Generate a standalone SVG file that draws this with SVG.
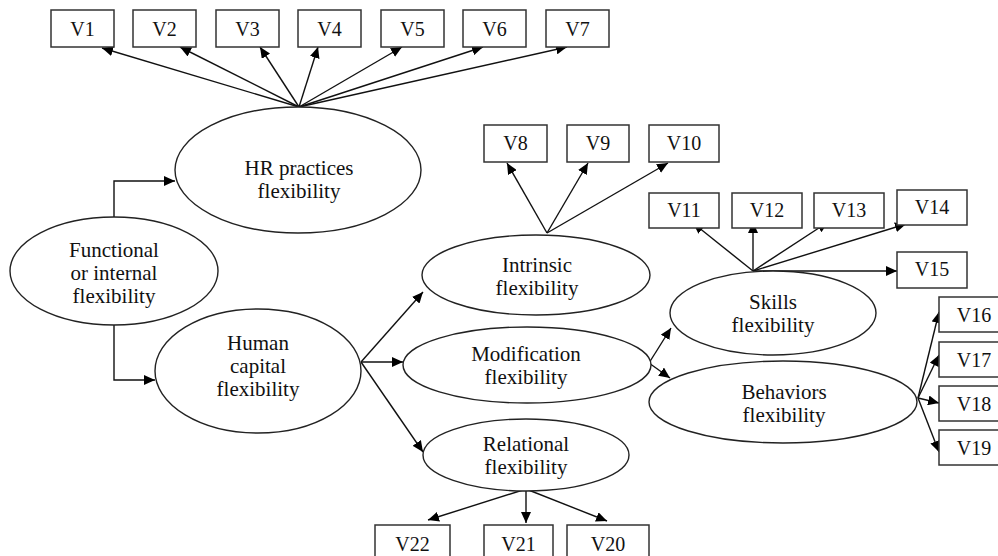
<svg xmlns="http://www.w3.org/2000/svg" width="998" height="556" viewBox="0 0 998 556">
<defs>
<marker id="ah" markerUnits="userSpaceOnUse" markerWidth="12" markerHeight="10" refX="11" refY="5" orient="auto">
<path d="M0,0 L11,5 L0,10 z" fill="#000"/>
</marker>
<style>
.box{fill:#fff;stroke:#333;stroke-width:1.5}
.ell{fill:#fff;stroke:#222;stroke-width:1.4}
.lbl{font-family:'Liberation Serif',Tinos,'Times New Roman','DejaVu Serif',serif;font-size:20px;fill:#111;text-anchor:middle}
.etx{font-family:'Liberation Serif',Tinos,'Times New Roman','DejaVu Serif',serif;font-size:21px;fill:#111;text-anchor:middle}
.con{fill:none;stroke:#111;stroke-width:1.4;marker-end:url(#ah)}
</style>
</defs>
<rect width="998" height="556" fill="#fff"/>

<g id="connectors">
<path class="con" d="M299,107 L102,48"/>
<path class="con" d="M299,107 L180,47"/>
<path class="con" d="M299,107 L260,47"/>
<path class="con" d="M299,107 L318,47"/>
<path class="con" d="M299,107 L402,47"/>
<path class="con" d="M299,107 L483,47"/>
<path class="con" d="M299,107 L567,47"/>
<path class="con" d="M114,217 V181 H175"/>
<path class="con" d="M114,325 V380 H155"/>
<path class="con" d="M361,362 L423,292"/>
<path class="con" d="M361,362 L403,362"/>
<path class="con" d="M361,362 L423,452"/>
<path class="con" d="M547,233 L507,163"/>
<path class="con" d="M547,233 L588,163"/>
<path class="con" d="M547,233 L668,163"/>
<path class="con" d="M649,363 L671,328"/>
<path class="con" d="M649,363 L670,378"/>
<path class="con" d="M753,271 L693,223"/>
<path class="con" d="M753,271 L753,222"/>
<path class="con" d="M753,271 L828,222"/>
<path class="con" d="M753,271 L906,224"/>
<path class="con" d="M753,271 L897,271"/>
<path class="con" d="M918,398 L939,312"/>
<path class="con" d="M918,398 L939,355"/>
<path class="con" d="M918,398 L939,403"/>
<path class="con" d="M918,398 L939,452"/>
<path class="con" d="M526,489 L428,520"/>
<path class="con" d="M526,489 L526,523"/>
<path class="con" d="M526,489 L607,521"/>
</g>

<g id="v1"><rect class="box" x="51" y="10" width="63" height="37"/><text class="lbl" x="82.5" y="36">V1</text></g>
<g id="v2"><rect class="box" x="133" y="10" width="63" height="37"/><text class="lbl" x="164.5" y="36">V2</text></g>
<g id="v3"><rect class="box" x="216" y="10" width="63" height="37"/><text class="lbl" x="247.5" y="36">V3</text></g>
<g id="v4"><rect class="box" x="298" y="10" width="63" height="37"/><text class="lbl" x="329.5" y="36">V4</text></g>
<g id="v5"><rect class="box" x="381" y="10" width="63" height="37"/><text class="lbl" x="412.5" y="36">V5</text></g>
<g id="v6"><rect class="box" x="463" y="10" width="63" height="37"/><text class="lbl" x="494.5" y="36">V6</text></g>
<g id="v7"><rect class="box" x="546" y="10" width="63" height="37"/><text class="lbl" x="577.5" y="36">V7</text></g>

<g id="v8"><rect class="box" x="484" y="125" width="63" height="37"/><text class="lbl" x="515.5" y="150">V8</text></g>
<g id="v9"><rect class="box" x="567" y="125" width="62" height="37"/><text class="lbl" x="598" y="150">V9</text></g>
<g id="v10"><rect class="box" x="649" y="125" width="70" height="37"/><text class="lbl" x="684" y="150">V10</text></g>

<g id="v11"><rect class="box" x="649" y="193" width="70" height="35"/><text class="lbl" x="684" y="217">V11</text></g>
<g id="v12"><rect class="box" x="732" y="193" width="70" height="35"/><text class="lbl" x="767" y="217">V12</text></g>
<g id="v13"><rect class="box" x="814" y="193" width="70" height="35"/><text class="lbl" x="849" y="217">V13</text></g>
<g id="v14"><rect class="box" x="897" y="190" width="70" height="35"/><text class="lbl" x="932" y="214">V14</text></g>
<g id="v15"><rect class="box" x="897" y="252" width="70" height="36"/><text class="lbl" x="932" y="276">V15</text></g>

<g id="v16"><rect class="box" x="939" y="297" width="70" height="35"/><text class="lbl" x="974" y="322">V16</text></g>
<g id="v17"><rect class="box" x="939" y="342" width="70" height="35"/><text class="lbl" x="974" y="367">V17</text></g>
<g id="v18"><rect class="box" x="939" y="386" width="70" height="35"/><text class="lbl" x="974" y="411">V18</text></g>
<g id="v19"><rect class="box" x="939" y="430" width="70" height="35"/><text class="lbl" x="974" y="455">V19</text></g>

<g id="v22"><rect class="box" x="375" y="525" width="75" height="40"/><text class="lbl" x="412.5" y="551">V22</text></g>
<g id="v21"><rect class="box" x="484" y="525" width="69" height="40"/><text class="lbl" x="518.5" y="551">V21</text></g>
<g id="v20"><rect class="box" x="567" y="525" width="82" height="40"/><text class="lbl" x="608" y="551">V20</text></g>

<g id="hr"><ellipse class="ell" cx="298" cy="170" rx="123" ry="63"/><text class="etx" x="299" y="175">HR practices</text><text class="etx" x="299" y="198">flexibility</text></g>
<g id="functional"><ellipse class="ell" cx="114" cy="271" rx="104" ry="54"/><text class="etx" x="114" y="257">Functional</text><text class="etx" x="114" y="280">or internal</text><text class="etx" x="114" y="303">flexibility</text></g>
<g id="human"><ellipse class="ell" cx="258" cy="371" rx="103" ry="62"/><text class="etx" x="258" y="350">Human</text><text class="etx" x="258" y="373">capital</text><text class="etx" x="258" y="396">flexibility</text></g>
<g id="intrinsic"><ellipse class="ell" cx="536" cy="275" rx="114" ry="40"/><text class="etx" x="537" y="272">Intrinsic</text><text class="etx" x="537" y="295">flexibility</text></g>
<g id="modification"><ellipse class="ell" cx="527" cy="365" rx="124" ry="38"/><text class="etx" x="526" y="361">Modification</text><text class="etx" x="526" y="384">flexibility</text></g>
<g id="relational"><ellipse class="ell" cx="526" cy="455" rx="103" ry="36"/><text class="etx" x="526" y="451">Relational</text><text class="etx" x="526" y="474">flexibility</text></g>
<g id="skills"><ellipse class="ell" cx="773" cy="313" rx="103" ry="42"/><text class="etx" x="773" y="309">Skills</text><text class="etx" x="773" y="332">flexibility</text></g>
<g id="behaviors"><ellipse class="ell" cx="783" cy="402" rx="134" ry="41"/><text class="etx" x="784" y="399">Behaviors</text><text class="etx" x="784" y="422">flexibility</text></g>
</svg>
